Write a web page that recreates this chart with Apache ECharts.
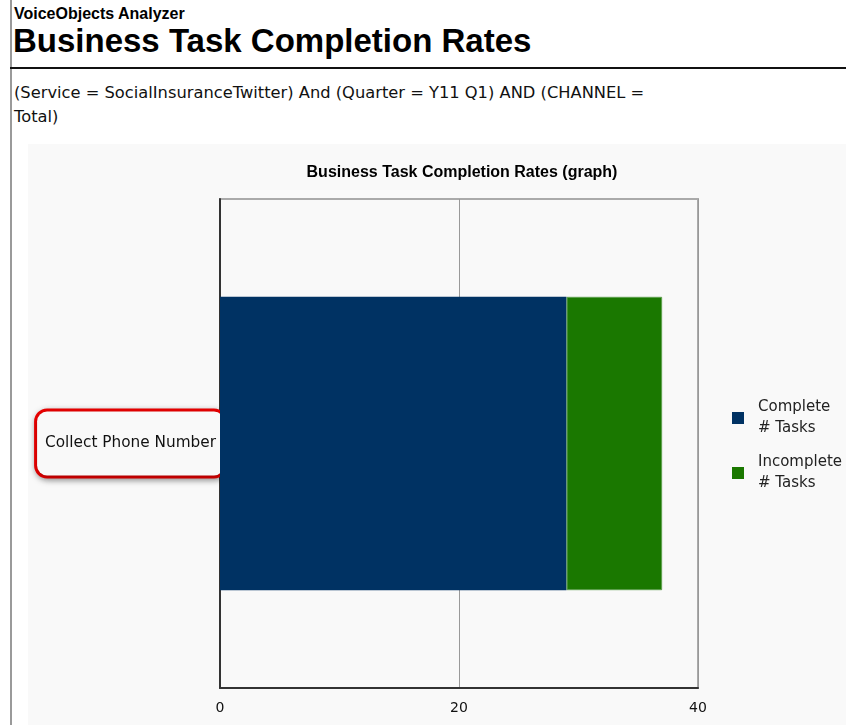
<!DOCTYPE html>
<html>
<head>
<meta charset="utf-8">
<script src="https://cdn.jsdelivr.net/npm/echarts@6/dist/echarts.min.js"></script>
<style>
  html, body { margin: 0; padding: 0; background: #ffffff; width: 846px; height: 725px; overflow: hidden; }
  #vline { position: absolute; left: 10px; top: 0; width: 2px; height: 725px; background: #9a9a9a; }
  #app { position: absolute; left: 14px; top: 5px; font-family: "Liberation Sans", Arial, sans-serif; font-weight: bold; font-size: 16px; color: #000; }
  #h1 { position: absolute; left: 13px; top: 22px; font-family: "Liberation Sans", Arial, sans-serif; font-weight: bold; font-size: 33px; color: #000; white-space: nowrap; }
  #hline { position: absolute; left: 10px; top: 67px; width: 836px; height: 2px; background: #111; }
  #filter { position: absolute; left: 14px; top: 81px; font-family: "DejaVu Sans", sans-serif; font-size: 16.3px; line-height: 24px; color: #111; white-space: nowrap; }
  #chart { position: absolute; left: 28px; top: 144px; width: 818px; height: 581px; background: #f9f9f9; }
</style>
</head>
<body>
<div id="vline"></div>
<div id="app">VoiceObjects Analyzer</div>
<div id="h1">Business Task Completion Rates</div>
<div id="hline"></div>
<div id="filter">(Service = SocialInsuranceTwitter) And (Quarter = Y11 Q1) AND (CHANNEL =<br>Total)</div>
<div id="chart"></div>
<script>
const categories = ["Collect Phone Number"];
const completeTasks = [29];
const incompleteTasks = [8];
const seriesNames = ["Complete\n# Tasks", "Incomplete\n# Tasks"];
const xTicks = [0, 20, 40];

const chart = echarts.init(document.getElementById('chart'), null, { renderer: 'canvas' });
const fontFam = '"DejaVu Sans", sans-serif';
chart.setOption({
  backgroundColor: '#f9f9f9',
  animation: false,
  title: {
    text: 'Business Task Completion Rates (graph)',
    left: 429, top: 16, textAlign: 'center',
    textStyle: { fontFamily: '"Liberation Sans", Arial, sans-serif', fontWeight: 'bold', fontSize: 16, color: '#000' }
  },
  legend: {
    orient: 'vertical',
    left: 699, top: 248,
    icon: 'rect', itemWidth: 12, itemHeight: 12, itemGap: 13,
    itemStyle: { borderWidth: 0 },
    textStyle: { fontFamily: fontFam, fontSize: 15, lineHeight: 21, color: '#222', padding: [0, 0, 0, 9] },
    data: seriesNames
  },
  grid: {
    left: 192, right: 148, top: 55, bottom: 37,
    show: true, borderColor: '#aaaaaa', borderWidth: 2, backgroundColor: 'transparent'
  },
  xAxis: {
    type: 'value', min: xTicks[0], max: xTicks[xTicks.length - 1], interval: xTicks[1] - xTicks[0],
    axisLine: { show: true, lineStyle: { color: '#333', width: 2 } },
    axisTick: { show: false },
    splitLine: { show: true, lineStyle: { color: '#999', width: 1 } },
    axisLabel: { fontFamily: fontFam, fontSize: 14, color: '#111', margin: 13 }
  },
  yAxis: {
    type: 'category', data: categories,
    axisLine: { show: true, lineStyle: { color: '#333', width: 2 } },
    axisTick: { show: false },
    axisLabel: {
      fontFamily: fontFam, fontSize: 15.3, color: '#111', margin: -4,
      borderColor: '#ee0000', borderWidth: 3, borderRadius: 10,
      padding: [23, 8, 26, 8], backgroundColor: '#f9f9f9',
      shadowColor: 'rgba(0,0,0,0.35)', shadowBlur: 6, shadowOffsetX: 1, shadowOffsetY: 2
    }
  },
  series: [
    { name: seriesNames[0], type: 'bar', stack: 't', data: completeTasks, barCategoryGap: '40%',
      itemStyle: { color: '#003263' } },
    { name: seriesNames[1], type: 'bar', stack: 't', data: incompleteTasks,
      itemStyle: { color: '#1a7800', borderColor: '#5fa14f', borderWidth: 1 } }
  ]
});
</script>
</body>
</html>
